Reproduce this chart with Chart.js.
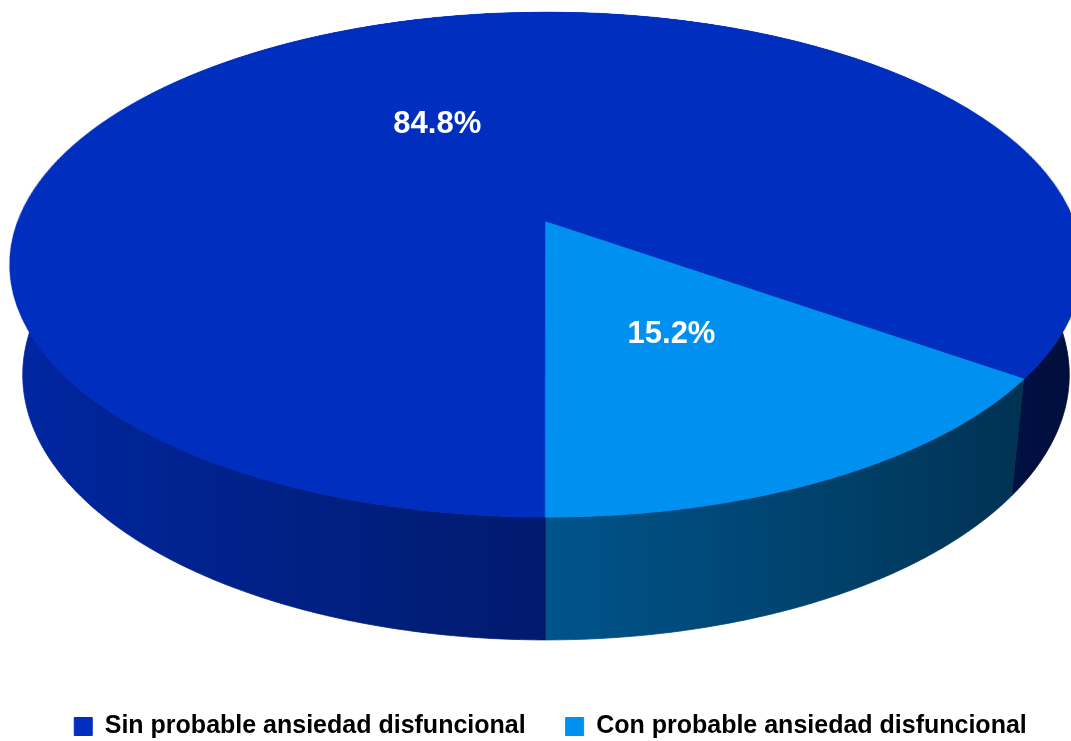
<!DOCTYPE html>
<html>
<head>
<meta charset="utf-8">
<script src="https://cdn.jsdelivr.net/npm/chart.js@4.4.1/dist/chart.umd.min.js"></script>
<style>
  html, body { margin: 0; padding: 0; background: #fff; }
  #wrap { width: 1071px; height: 741px; }
</style>
</head>
<body>
<div id="wrap"><canvas id="pieChart"></canvas></div>
<script>
// Datos del gráfico
const categorias = ['Sin probable ansiedad disfuncional', 'Con probable ansiedad disfuncional'];
const porcentajes = [84.8, 15.2];
const colores = ['#002EBE', '#0091F0'];

// Cámara para simular el pastel 3D con perspectiva (radio del pastel = 1)
const vista = {
    cx: 546, cy: 326,          // punto principal en pantalla
    focal: 2721,
    d0: 5.153, e0: 0.197,      // profundidad / altura del centro respecto al ojo
    tilt: 29.86 * Math.PI / 180,
    grosor: 0.239              // altura del cilindro
};

function proyectar(u, v, z) {
    const s = Math.sin(vista.tilt), c = Math.cos(vista.tilt);
    const depth = vista.d0 - v * c - z * s;
    const up = vista.e0 - v * s + z * c;
    return { x: vista.cx + vista.focal * u / depth, y: vista.cy - vista.focal * up / depth };
}

function sombra(t) { return Math.max(0.3, 0.58 - 0.29 * Math.cos(t)); }

function mezcla(hex, f) {
    const n = parseInt(hex.slice(1), 16);
    const r = (n >> 16) & 255, g = (n >> 8) & 255, b = n & 255;
    return 'rgb(' + Math.round(r * f) + ',' + Math.round(g * f) + ',' + Math.round(b * f) + ')';
}

// Pared lateral de una porción entre los ángulos a0 y a1 (dentro de [0, PI])
function dibujarPared(ctx, a0, a1, color) {
    const pasos = Math.max(8, Math.ceil((a1 - a0) / 0.01));
    ctx.beginPath();
    for (let i = 0; i <= pasos; i++) {
        const t = a0 + (a1 - a0) * i / pasos;
        const p = proyectar(Math.cos(t), Math.sin(t), 0);
        if (i === 0) ctx.moveTo(p.x, p.y); else ctx.lineTo(p.x, p.y);
    }
    for (let i = pasos; i >= 0; i--) {
        const t = a0 + (a1 - a0) * i / pasos;
        const p = proyectar(Math.cos(t), Math.sin(t), -vista.grosor);
        ctx.lineTo(p.x, p.y);
    }
    ctx.closePath();
    const xa = proyectar(Math.cos(a0), Math.sin(a0), 0).x;
    const xb = proyectar(Math.cos(a1), Math.sin(a1), 0).x;
    const grad = ctx.createLinearGradient(xa, 0, xb === xa ? xa + 1 : xb, 0);
    for (let k = 0; k <= 12; k++) {
        const t = a0 + (a1 - a0) * k / 12;
        const x = proyectar(Math.cos(t), Math.sin(t), 0).x;
        const off = Math.min(1, Math.max(0, (x - xa) / ((xb - xa) || 1)));
        grad.addColorStop(off, mezcla(color, sombra(t)));
    }
    ctx.fillStyle = grad;
    ctx.strokeStyle = grad;
    ctx.lineWidth = 0.8;
    ctx.fill();
    ctx.stroke();
}

const pastel3D = {
    id: 'pastel3D',
    beforeDatasetsDraw(chart) {
        const ctx = chart.ctx;
        const meta = chart.getDatasetMeta(0);
        const s = Math.sin(vista.tilt), c = Math.cos(vista.tilt);

        // 1) paredes del frente
        meta.data.forEach((arc, i) => {
            const col = colores[i];
            for (let k = -1; k <= 2; k++) {
                const lo = Math.max(arc.startAngle, k * 2 * Math.PI);
                const hi = Math.min(arc.endAngle, k * 2 * Math.PI + Math.PI);
                if (hi > lo) dibujarPared(ctx, lo - k * 2 * Math.PI, hi - k * 2 * Math.PI, col);
            }
        });

        // 2) cara superior: Chart.js dibuja las porciones en un lienzo aparte, luego se proyecta
        const S = 540;
        const off = document.createElement('canvas');
        off.width = off.height = 2 * S + 8;
        const octx = off.getContext('2d');
        const k = S / meta.data[0].outerRadius;
        octx.setTransform(k, 0, 0, k, off.width / 2 - k * meta.data[0].x, off.height / 2 - k * meta.data[0].y);
        meta.data.forEach(arc => arc.draw(octx));
        octx.setTransform(1, 0, 0, 1, 0, 0);

        const vDe = Y => ((Y - vista.cy) * vista.d0 + vista.focal * vista.e0) / (vista.focal * s + (Y - vista.cy) * c);
        const yTop = Math.floor(proyectar(0, -1, 0).y) - 1;
        const yBot = Math.ceil(proyectar(0, 1, 0).y) + 1;
        ctx.save();
        ctx.imageSmoothingEnabled = true;
        ctx.imageSmoothingQuality = 'high';
        for (let Y = yTop; Y < yBot; Y++) {
            const v0 = vDe(Y), v1 = vDe(Y + 1);
            if (v1 < -1.01 || v0 > 1.01) continue;
            const vm = (v0 + v1) / 2;
            const esc = vista.focal / (vista.d0 - vm * c) / S;
            const sy0 = Math.max(0, off.height / 2 + v0 * S);
            const sy1 = Math.min(off.height, off.height / 2 + v1 * S);
            if (sy1 <= sy0) continue;
            ctx.drawImage(off, 0, sy0, off.width, sy1 - sy0,
                vista.cx - (off.width / 2) * esc, Y, off.width * esc, 1);
        }
        ctx.restore();

        // 3) etiquetas de porcentaje
        ctx.save();
        ctx.fillStyle = '#fff';
        ctx.font = 'bold 31px "Liberation Sans", Arial, sans-serif';
        ctx.textAlign = 'center';
        ctx.textBaseline = 'middle';
        meta.data.forEach((arc, i) => {
            const mid = (arc.startAngle + arc.endAngle) / 2;
            const p = proyectar(0.48 * Math.cos(mid), 0.48 * Math.sin(mid), 0);
            ctx.fillText(porcentajes[i].toFixed(1) + '%', p.x, p.y);
        });
        ctx.restore();
        return false;
    }
};

const ctxPie = document.getElementById('pieChart').getContext('2d');
const pieChart = new Chart(ctxPie, {
    type: 'pie',
    data: {
        labels: categorias,
        datasets: [{
            data: porcentajes,
            backgroundColor: colores,
            borderColor: colores,
            borderWidth: 1
        }]
    },
    options: {
        responsive: true,
        maintainAspectRatio: false,
        animation: false,
        events: [],
        rotation: 180,
        layout: { padding: { left: 30, bottom: -8 } },
        plugins: {
            legend: {
                position: 'bottom',
                labels: {
                    boxWidth: 18,
                    boxHeight: 18,
                    padding: 40,
                    color: '#000',
                    font: { family: '"Liberation Sans", Arial, sans-serif', size: 25, weight: 'bold' }
                }
            },
            tooltip: { enabled: false }
        }
    },
    plugins: [pastel3D]
});
</script>
</body>
</html>
